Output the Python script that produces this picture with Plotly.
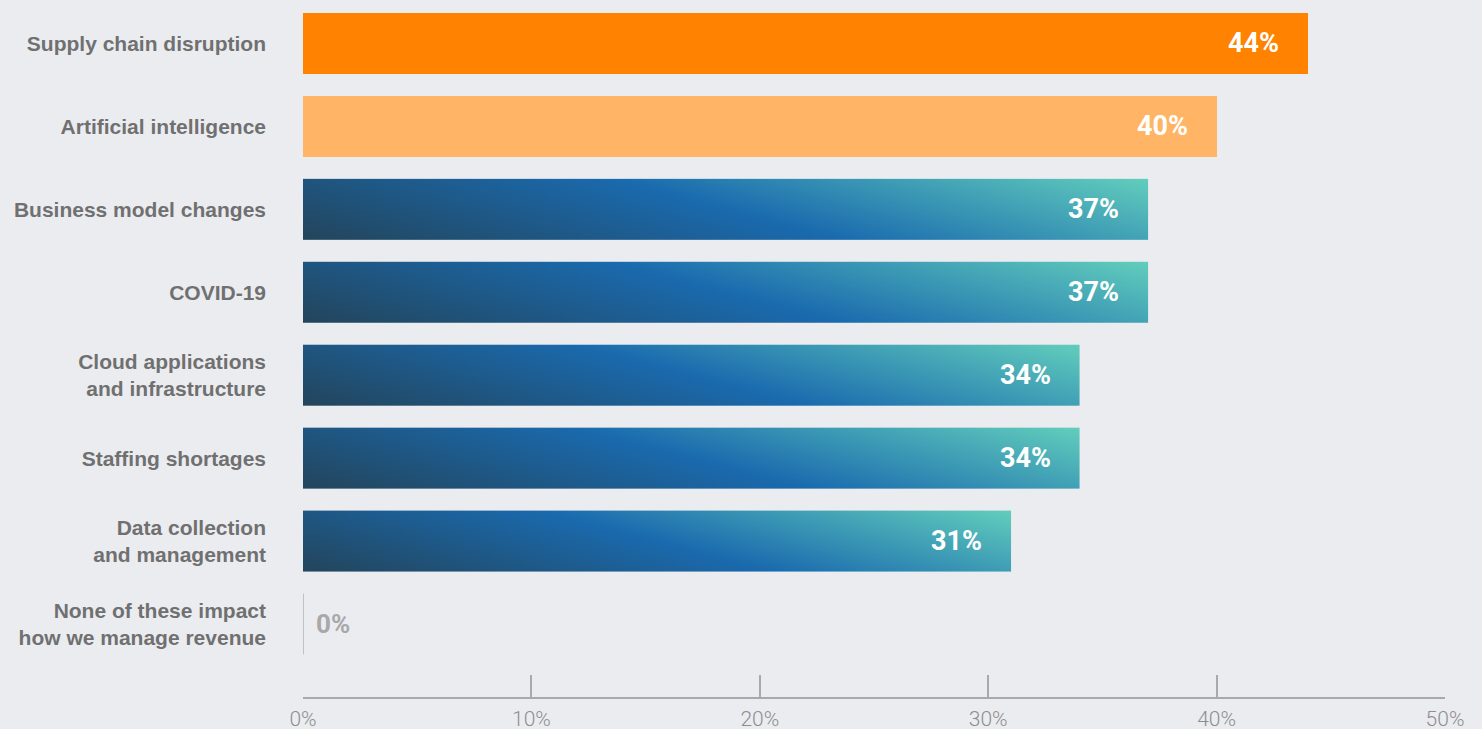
import base64
import struct
import zlib

import numpy as np
import plotly.graph_objects as go

# ---- data ----
categories = [
    "Supply chain disruption",
    "Artificial intelligence",
    "Business model changes",
    "COVID-19",
    "Cloud applications<br>and infrastructure",
    "Staffing shortages",
    "Data collection<br>and management",
    "None of these impact<br>how we manage revenue",
]
values = [44, 40, 37, 37, 34, 34, 31, 0]
bar_styles = ["orange", "light", "gradient", "gradient", "gradient", "gradient", "gradient", "empty"]
tick_values = [0, 10, 20, 30, 40, 50]
tick_labels = ["0%", "10%", "20%", "30%", "40%", "50%"]

# ---- styling ----
BG = "#ebecf0"
ORANGE = "#ff8200"
LIGHT_ORANGE = "#ffb466"
GRAD_STOPS = [(0.0, (0x23, 0x45, 0x5c)), (0.5, (0x1a, 0x6a, 0xae)), (1.0, (0x62, 0xce, 0xbc))]
AXIS_GREY = "#a9a9a9"
LABEL_GREY = "#707070"
BAR_WIDTH = 0.735

W, H = 1482, 729
M_L, M_R, M_T, M_B = 303, 37, 2, 32
X_RANGE = [0, 50]
Y_RANGE = [7.88, -0.5]
px_per_unit_x = (W - M_L - M_R) / (X_RANGE[1] - X_RANGE[0])
px_per_unit_y = (H - M_T - M_B) / abs(Y_RANGE[0] - Y_RANGE[1])


def png_data_uri(rgb):
    """Encode an (h, w, 3) uint8 array as a PNG data URI."""
    h, w, _ = rgb.shape
    raw = b"".join(b"\x00" + rgb[r].tobytes() for r in range(h))

    def chunk(tag, data):
        c = struct.pack(">I", len(data)) + tag + data
        return c + struct.pack(">I", zlib.crc32(tag + data) & 0xFFFFFFFF)

    png = b"\x89PNG\r\n\x1a\n"
    png += chunk(b"IHDR", struct.pack(">IIBBBBB", w, h, 8, 2, 0, 0, 0))
    png += chunk(b"IDAT", zlib.compress(raw, 9))
    png += chunk(b"IEND", b"")
    return "data:image/png;base64," + base64.b64encode(png).decode()


def gradient_fill(bar_w_px, bar_h_px, angle_deg=75, iw=400, ih=40):
    """Diagonal gradient (dark bottom-left to teal top-right) in pixel space."""
    a = np.radians(angle_deg)
    xs = (np.arange(iw) + 0.5) / iw * bar_w_px
    ys = (ih - np.arange(ih) - 0.5) / ih * bar_h_px
    X, Y = np.meshgrid(xs, ys)
    t = (X * np.cos(a) + Y * np.sin(a)) / (bar_w_px * np.cos(a) + bar_h_px * np.sin(a))
    pos = [s[0] for s in GRAD_STOPS]
    out = np.zeros((ih, iw, 3))
    for ch in range(3):
        out[..., ch] = np.interp(t, pos, [s[1][ch] for s in GRAD_STOPS])
    return np.clip(np.round(out), 0, 255).astype(np.uint8)


rows = list(range(len(categories)))
fill_colors = []
for style in bar_styles:
    if style == "orange":
        fill_colors.append(ORANGE)
    elif style == "light":
        fill_colors.append(LIGHT_ORANGE)
    else:
        # gradient bars are painted by the image overlay below
        fill_colors.append("rgba(0,0,0,0)")

fig = go.Figure()
fig.add_trace(
    go.Bar(
        x=values,
        y=rows,
        orientation="h",
        width=BAR_WIDTH,
        marker=dict(color=fill_colors, line=dict(width=0)),
        hoverinfo="skip",
        showlegend=False,
    )
)

images = []
annotations = []
shapes = []
for i, (v, style) in enumerate(zip(values, bar_styles)):
    if style == "gradient":
        rgb = gradient_fill(v * px_per_unit_x, BAR_WIDTH * px_per_unit_y)
        images.append(
            dict(
                source=png_data_uri(rgb),
                xref="x", yref="y",
                x=0, y=i,
                sizex=v, sizey=BAR_WIDTH,
                xanchor="left", yanchor="middle",
                sizing="stretch",
                layer="above",
            )
        )
    if style == "empty":
        # zero-length bar shown as a thin baseline tick
        shapes.append(
            dict(
                type="line", xref="x", yref="y",
                x0=v, x1=v, y0=i - BAR_WIDTH / 2, y1=i + BAR_WIDTH / 2,
                line=dict(color="#b5b5b5", width=1.5),
            )
        )
        annotations.append(
            dict(
                x=v, y=i, xref="x", yref="y",
                text=f"{v}%", showarrow=False,
                xanchor="left", xshift=11,
                font=dict(family="Roboto", size=26, color="#a8a8a8", weight="bold"),
            )
        )
    else:
        annotations.append(
            dict(
                x=v, y=i, xref="x", yref="y",
                text=f"{v}%", showarrow=False,
                xanchor="right", xshift=-27,
                font=dict(family="Roboto", size=27, color="white", weight="bold"),
            )
        )

fig.update_layout(
    width=W,
    height=H,
    margin=dict(l=M_L, r=M_R, t=M_T, b=M_B, pad=0, autoexpand=False),
    paper_bgcolor=BG,
    plot_bgcolor="rgba(0,0,0,0)",
    bargap=0,
    images=images,
    annotations=annotations,
    shapes=shapes,
    xaxis=dict(
        range=X_RANGE,
        automargin=False,
        tickvals=tick_values,
        ticktext=tick_labels,
        showgrid=False,
        zeroline=False,
        showline=True,
        linecolor=AXIS_GREY,
        linewidth=1.5,
        ticks="inside",
        ticklen=22,
        tickwidth=1.5,
        tickcolor=AXIS_GREY,
        ticklabelstandoff=2,
        tickfont=dict(family="Roboto", size=21, color="#8e8e8e", weight=300),
        fixedrange=True,
    ),
    yaxis=dict(
        range=Y_RANGE,
        automargin=False,
        tickvals=rows,
        ticktext=categories,
        showgrid=False,
        zeroline=False,
        showline=False,
        ticks="",
        ticklabelstandoff=36,
        tickfont=dict(family="Liberation Sans", size=21, color=LABEL_GREY, weight="bold"),
        fixedrange=True,
    ),
)

fig.write_html("out.html", config={"displayModeBar": False})
